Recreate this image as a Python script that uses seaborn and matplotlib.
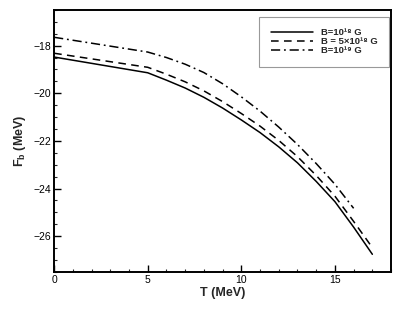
import matplotlib
matplotlib.use("Agg")
import matplotlib.pyplot as plt
from matplotlib.ticker import MultipleLocator
import numpy as np
import pandas as pd
import seaborn as sns

# Temperature grid (MeV) and binding free energy (MeV) for three fields
T_main = [0, 5, 6, 7, 8, 9, 10, 11, 12, 13, 14, 15, 16, 17]
F_b18 = [-18.48, -19.14, -19.45, -19.78, -20.17, -20.62, -21.12, -21.65,
         -22.25, -22.92, -23.70, -24.55, -25.62, -26.76]
F_5b18 = [-18.32, -18.91, -19.20, -19.52, -19.90, -20.35, -20.85, -21.38,
          -21.98, -22.66, -23.45, -24.32, -25.38, -26.48]
T_b19 = [0, 5, 6, 7, 8, 9, 10, 11, 12, 13, 14, 15, 16]
F_b19 = [-17.65, -18.27, -18.50, -18.78, -19.13, -19.60, -20.15, -20.75,
         -21.42, -22.15, -22.95, -23.82, -24.83]

labels = ["B=10¹⁸ G", "B = 5×10¹⁸ G", "B=10¹⁹ G"]

sns.set_theme(style="ticks")
plt.rcParams["font.family"] = ["Liberation Sans", "DejaVu Sans"]
plt.rcParams["mathtext.fontset"] = "custom"
plt.rcParams["mathtext.rm"] = "Liberation Sans:bold"
plt.rcParams["mathtext.it"] = "Liberation Sans:bold"
plt.rcParams["mathtext.bf"] = "Liberation Sans:bold"
plt.rcParams["xtick.direction"] = "in"
plt.rcParams["ytick.direction"] = "in"

fig = plt.figure(figsize=(4.04, 3.09), dpi=100)
ax = fig.add_axes([0.134, 0.120, 0.834, 0.848])

series = [
    (T_main, F_b18, labels[0], "-"),
    (T_main, F_5b18, labels[1], (0, (5, 3.5))),
    (T_b19, F_b19, labels[2], (0, (6, 2.5, 1.2, 2.5))),
]
for t, f, lab, ls in series:
    df = pd.DataFrame({"T": t, "F": f})
    sns.lineplot(data=df, x="T", y="F", ax=ax, color="black", lw=1.1,
                 linestyle=ls, label=lab)

ax.set_xlim(0, 18)
ax.set_ylim(-27.5, -16.5)
ax.xaxis.set_major_locator(MultipleLocator(5))
ax.xaxis.set_minor_locator(MultipleLocator(1))
ax.yaxis.set_major_locator(MultipleLocator(2))
ax.yaxis.set_minor_locator(MultipleLocator(0.5))
ax.tick_params(which="major", length=5, width=1, labelsize=7.5, colors="black", pad=2)
ax.tick_params(which="minor", length=2.5, width=0.8)
for s in ax.spines.values():
    s.set_linewidth(1.4)
    s.set_color("black")

ax.set_xlabel("T (MeV)", fontsize=9, fontweight="bold", labelpad=2)
ax.set_ylabel(r"F$_{b}$ (MeV)", fontsize=9, fontweight="bold", labelpad=4)

leg = ax.legend(loc="upper right", bbox_to_anchor=(1.0, 0.98), fancybox=False,
                frameon=True, edgecolor="gray", handlelength=4.5,
                borderpad=1.2, labelspacing=0.0, handletextpad=0.85,
                borderaxespad=0.2, prop={"size": 6.8, "weight": "bold"})
leg.get_frame().set_linewidth(0.8)

fig.savefig("out.png", dpi=100)
